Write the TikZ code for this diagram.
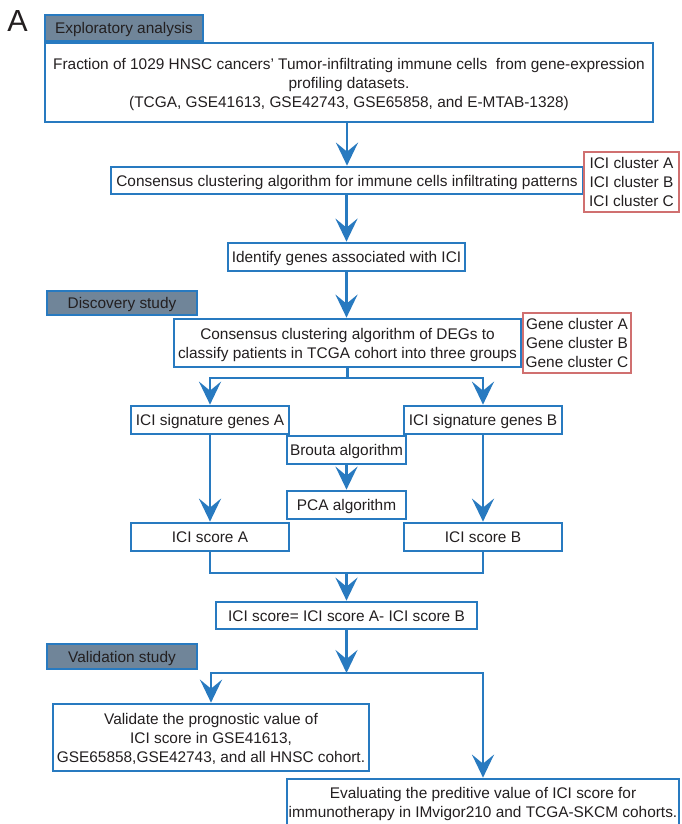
\documentclass[tikz,border=0pt]{standalone}
\usepackage{fontspec}
\setmainfont{Liberation Sans}
\usetikzlibrary{arrows.meta}
\definecolor{fblue}{RGB}{40,122,192}
\definecolor{hdrfill}{RGB}{112,133,153}
\definecolor{cred}{RGB}{208,112,112}
\definecolor{txt}{RGB}{35,31,32}
\begin{document}
\begin{tikzpicture}[x=1pt,y=-1pt,
  box/.style={draw=fblue, line width=2.7pt, fill=white, rectangle, align=center,
    inner sep=0pt, text=txt, text depth=0pt, font=\fontsize{15.4}{19}\selectfont},
  one/.style={text height=11pt, text depth=0pt},
  hdr/.style={box, fill=hdrfill},
  redbox/.style={box, draw=cred},
  ln/.style={draw=fblue, line width=2.7pt},
  arr/.style={draw=fblue, line width=2.7pt, -{Stealth[length=23pt,width=22pt,inset=9pt]}}]
\useasboundingbox (0,0) rectangle (681,824);
\clip (0,0) rectangle (681,824);
\fill[white] (0,0) rectangle (681,824);

\node[text=txt, inner sep=0pt, font=\fontsize{30.5}{30}\selectfont] (lblA) at (17.5,21) {A};

\node[hdr, one, minimum width=158pt, minimum height=26pt] (h1) at (124,28) {Exploratory analysis};
\node[box, minimum width=608pt, minimum height=79pt] (b1) at (349,82.5)
  {Fraction of 1029 HNSC cancers’ Tumor-infiltrating immune cells\ \ from gene-expression\\
   profiling datasets.\\
   (TCGA, GSE41613, GSE42743, GSE65858, and E-MTAB-1328)};
\node[box, one, minimum width=472pt, minimum height=27pt] (b2) at (347,180.5)
  {Consensus clustering algorithm for immune cells infiltrating patterns};
\node[redbox, minimum width=95pt, minimum height=60pt] (r1) at (631.5,182)
  {ICI cluster A\\ICI cluster B\\ICI cluster C};
\node[box, one, minimum width=237pt, minimum height=28pt] (b3) at (346.5,257)
  {Identify genes associated with ICI};

\node[hdr, one, minimum width=150pt, minimum height=24pt] (h2) at (122,303) {Discovery study};
\node[box, minimum width=347pt, minimum height=48pt] (b4) at (347.5,343)
  {Consensus clustering algorithm of DEGs to\\classify patients in TCGA cohort into three groups};
\node[redbox, minimum width=108pt, minimum height=60pt] (r2) at (577,343)
  {Gene cluster A\\Gene cluster B\\Gene cluster C};
\node[box, one, minimum width=158pt, minimum height=28pt] (sa) at (210,420) {ICI signature genes A};
\node[box, one, minimum width=158pt, minimum height=28pt] (sb) at (483,420) {ICI signature genes B};
\node[box, one, minimum width=119pt, minimum height=28pt] (br) at (346.5,450) {Brouta algorithm};
\node[box, one, minimum width=119pt, minimum height=28pt] (pca) at (346.5,505) {PCA algorithm};
\node[box, one, minimum width=158pt, minimum height=28pt] (ca) at (210,537) {ICI score A};
\node[box, one, minimum width=158pt, minimum height=28pt] (cb) at (483,537) {ICI score B};
\node[box, one, minimum width=261pt, minimum height=27pt] (b7) at (346.5,615.5)
  {ICI score= ICI score A- ICI score B};

\node[hdr, one, minimum width=150pt, minimum height=25pt] (h3) at (122,656.5) {Validation study};
\node[box, minimum width=316pt, minimum height=67pt] (val) at (211,737.5)
  {Validate the prognostic value of\\ICI score in GSE41613,\\GSE65858,GSE42743, and all HNSC cohort.};
\node[box, minimum width=392pt, minimum height=47pt] (ev) at (483,802.5)
  {Evaluating the preditive value of ICI score for\\immunotherapy in IMvigor210 and TCGA-SKCM cohorts.};

% connectors
\draw[arr] (b2.north |- b1.south) -- (b2.north);
\draw[arr] (b3.north |- b2.south) -- (b3.north);
\draw[arr] (b3.south) -- (b3.south |- b4.north);

\coordinate (s1) at (347.5,378);
\draw[ln] (b4.south) -- (s1);
\draw[arr] (s1) -| (sa.north);
\draw[arr] (s1) -| (sb.north);

\draw[arr] (sa.south) -- (ca.north);
\draw[arr] (sb.south) -- (cb.north);
\draw[arr] (br.south) -- (pca.north);

\coordinate (m1) at (346.5,573);
\draw[ln] (ca.south) |- (m1) -| (cb.south);
\draw[arr] (m1) -- (b7.north);

\coordinate (v1) at (346.5,673);
\draw[arr] (b7.south) -- (v1);
\draw[ln] (sa.south |- v1) -- (sb.south |- v1);
\draw[arr] (v1) -| (val.north);
\draw[arr] (v1) -| (ev.north);
\end{tikzpicture}
\end{document}
